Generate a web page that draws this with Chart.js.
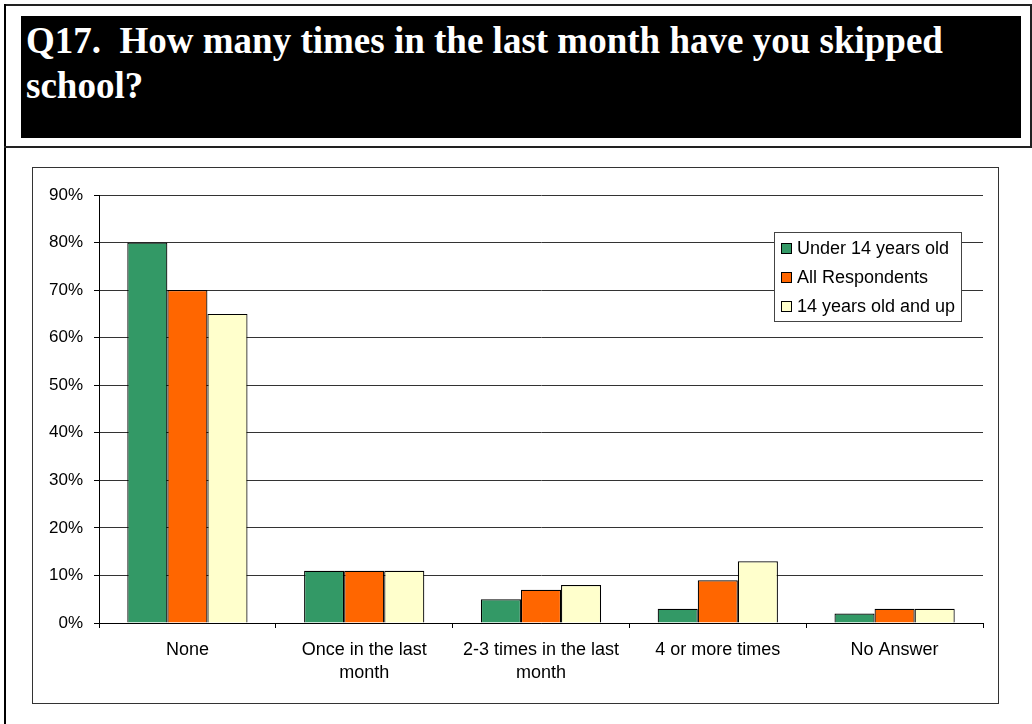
<!DOCTYPE html>
<html>
<head>
<meta charset="utf-8">
<title>Q17. Skipped school</title>
<script src="https://cdn.jsdelivr.net/npm/chart.js@4/dist/chart.umd.min.js"></script>
<style>
  html, body { margin: 0; padding: 0; background: #fff; }
  body { width: 1032px; height: 724px; position: relative; overflow: hidden; }
  .line { position: absolute; background: #222; }
  #title {
    position: absolute; left: 21px; top: 16px; width: 1000px; height: 122px;
    background: #000; color: #fff; padding-left: 5px;
    font: bold 37px "Liberation Serif", "Times New Roman", serif;
    line-height: 45px; padding-top: 2px; box-sizing: border-box;
  }
  #frame {
    position: absolute; left: 32px; top: 167px; width: 965px; height: 535px;
    border: 1px solid #333;
  }
  #frame canvas { display: block; }
</style>
</head>
<body>
<div class="line" style="left:4px; top:4px; width:1028px; height:2px;"></div>
<div class="line" style="left:4px; top:4px; width:2px; height:720px; background:#000;"></div>
<div class="line" style="left:1030px; top:4px; width:2px; height:144px;"></div>
<div class="line" style="left:4px; top:146px; width:1028px; height:2px;"></div>
<div id="title">Q17.&nbsp; How many times in the last month have you skipped<br>school?</div>
<div id="frame"><canvas id="chart" width="965" height="535"></canvas></div>

<script>
const categories = ['None', ['Once in the last', 'month'], ['2-3 times in the last', 'month'], '4 or more times', 'No Answer'];
const seriesNames = ['Under 14 years old', 'All Respondents', '14 years old and up'];
const under14 = [80, 11, 5, 3, 2];
const allRespondents = [70, 11, 7, 9, 3];
const over14 = [65, 11, 8, 13, 3];
const colors = ['#339966', '#FF6600', '#FFFFCC'];

const font = '"Liberation Sans", Arial, sans-serif';

// legend box sitting inside the plot, top right
const boxLegend = {
  id: 'boxLegend',
  afterDraw(chart) {
    const ctx = chart.ctx;
    const x = 741, y = 64, w = 187, h = 89;
    ctx.save();
    ctx.fillStyle = '#fff';
    ctx.fillRect(x, y, w, h);
    ctx.strokeStyle = '#444';
    ctx.lineWidth = 1;
    ctx.strokeRect(x + 0.5, y + 0.5, w, h);
    ctx.font = '18px ' + font;
    ctx.textBaseline = 'middle';
    chart.data.datasets.forEach((ds, i) => {
      const cy = y + 16 + i * 29;
      ctx.fillStyle = ds.backgroundColor;
      ctx.fillRect(x + 7, cy - 5, 11, 11);
      ctx.strokeStyle = '#000';
      ctx.strokeRect(x + 7.5, cy - 4.5, 10, 10);
      ctx.fillStyle = '#000';
      ctx.fillText(ds.label, x + 23, cy + 1);
    });
    ctx.restore();
  }
};

const data = [under14, allRespondents, over14];

new Chart(document.getElementById('chart'), {
  type: 'bar',
  data: {
    labels: categories,
    datasets: data.map((values, i) => ({
      label: seriesNames[i],
      data: values,
      backgroundColor: colors[i],
      borderColor: '#000',
      borderWidth: 1.2,
      categoryPercentage: 0.68,
      barPercentage: 1
    }))
  },
  options: {
    responsive: false,
    animation: false,
    layout: { padding: { top: 27, right: 15, bottom: 0, left: 0 } },
    plugins: {
      legend: { display: false },
      tooltip: { enabled: false }
    },
    scales: {
      x: {
        afterFit: s => { s.height = 80; },
        grid: {
          offset: true,
          drawOnChartArea: false,
          drawTicks: true,
          tickLength: 5,
          color: '#000'
        },
        border: { color: '#000', width: 1 },
        ticks: {
          color: '#000',
          padding: 10,
          maxRotation: 0,
          autoSkip: false,
          font: { family: font, size: 18, lineHeight: 1.3 }
        }
      },
      y: {
        min: 0,
        max: 90,
        afterFit: s => { s.width = 66; },
        grid: {
          color: '#333',
          tickColor: '#000',
          tickLength: 5
        },
        border: { color: '#000', width: 1 },
        ticks: {
          stepSize: 10,
          color: '#000',
          padding: 11,
          font: { family: font, size: 17 },
          callback: v => v + '%'
        }
      }
    }
  },
  plugins: [boxLegend]
});
</script>
</body>
</html>
